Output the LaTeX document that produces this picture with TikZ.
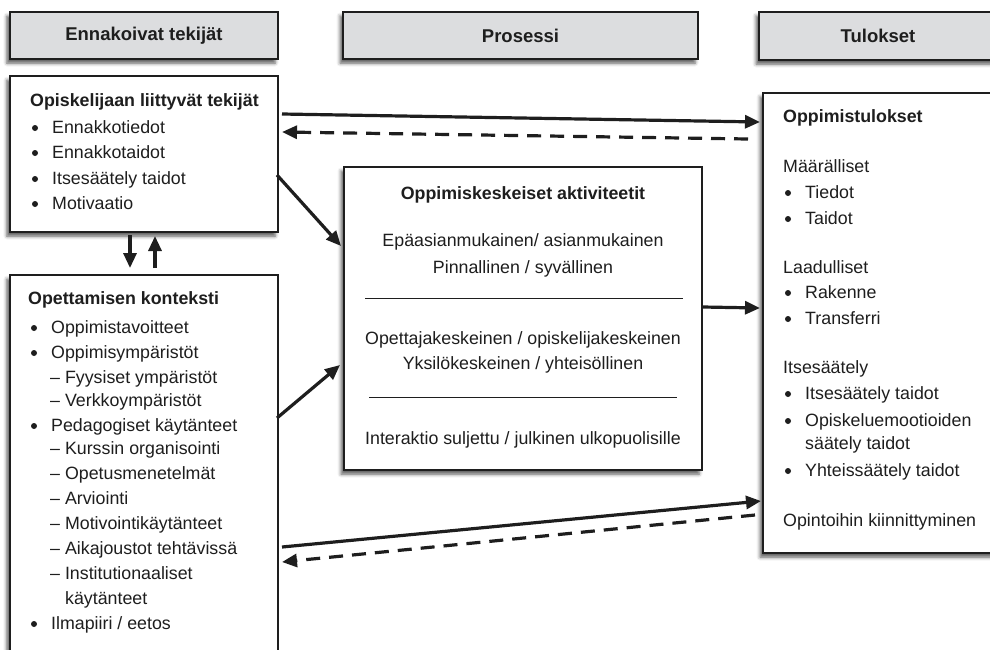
\documentclass[tikz,border=0pt]{standalone}
\usepackage{fontspec}
\setmainfont{Liberation Sans}
\usetikzlibrary{arrows.meta,calc,shadows.blur}
\definecolor{ink}{HTML}{1E1E1E}
\definecolor{headfill}{HTML}{DCDDDF}
% bulleted line: name, bullet x, baseline y, text
\newcommand\bitem[4]{%
  \fill[ink] (#2,#3-5) circle (3);
  \node[txt] (#1) at (#2+17,#3) {#4};}
\begin{document}
\begin{tikzpicture}[x=1pt,y=-1pt,
  box/.style={draw=ink, line width=1.8pt, fill=white, inner sep=0pt, outer sep=0pt,
    anchor=north west,
    blur shadow={shadow xshift=-3pt, shadow yshift=-4pt, shadow blur radius=3.5pt, shadow opacity=65}},
  head/.style={box, fill=headfill, font=\fontsize{18.5}{21}\selectfont\bfseries, text=ink},
  txt/.style={anchor=base west, inner sep=0pt, text=ink, font=\fontsize{17.8}{20}\selectfont},
  ttl/.style={txt, font=\fontsize{17.8}{20}\selectfont\bfseries},
  ctr/.style={txt, anchor=base},
  ctrb/.style={ttl, anchor=base},
  arr/.style={draw=ink, line width=3.2pt, -{Triangle[length=15pt,width=13pt]}},
  darr/.style={arr, dash pattern=on 14pt off 9pt},
  sep/.style={draw=ink, line width=0.8pt},
]
\useasboundingbox (0,0) rectangle (990,649);
\clip (0,0) rectangle (990,649);

% column headers
\node[head, minimum width=268pt, minimum height=47pt] (h1) at (10,12) {Ennakoivat tekijät};
\node[head, minimum width=355pt, minimum height=47pt] (h2) at (343,12) {Prosessi};
\node[head, minimum width=238pt, minimum height=48pt] (h3) at (759,12) {Tulokset};

% boxes
\node[box, minimum width=268pt, minimum height=156pt] (b1) at (10,76) {};
\node[box, minimum width=268pt, minimum height=400pt] (b2) at (10,275) {};
\node[box, minimum width=358pt, minimum height=303pt] (mid) at (344,167) {};
\node[box, minimum width=240pt, minimum height=460pt] (res) at (763,93) {};

% student factors
\node[ttl] (b1t) at (30,106) {Opiskelijaan liittyvät tekijät};
\bitem{b1a}{35}{133}{Ennakkotiedot}
\bitem{b1b}{35}{158}{Ennakkotaidot}
\bitem{b1c}{35}{184}{Itsesäätely taidot}
\bitem{b1d}{35}{209}{Motivaatio}

% teaching context
\node[ttl] (b2t) at (28,304) {Opettamisen konteksti};
\bitem{b2a}{34}{333}{Oppimistavoitteet}
\bitem{b2b}{34}{358}{Oppimisympäristöt}
\node[txt] (b2c) at (50,383) {– Fyysiset ympäristöt};
\node[txt] (b2d) at (50,406) {– Verkkoympäristöt};
\bitem{b2e}{34}{431}{Pedagogiset käytänteet}
\node[txt] (b2f) at (50,454) {– Kurssin organisointi};
\node[txt] (b2g) at (50,479) {– Opetusmenetelmät};
\node[txt] (b2h) at (50,504) {– Arviointi};
\node[txt] (b2i) at (50,529) {– Motivointikäytänteet};
\node[txt] (b2j) at (50,554) {– Aikajoustot tehtävissä};
\node[txt] (b2k) at (50,579) {– Institutionaaliset};
\node[txt] (b2l) at (65,604) {käytänteet};
\bitem{b2m}{34}{629}{Ilmapiiri / eetos}

% process
\node[ctrb] (m0) at (523,199) {Oppimiskeskeiset aktiviteetit};
\node[ctr] (m1) at (523,246) {Epäasianmukainen/ asianmukainen};
\node[ctr] (m2) at (523,273) {Pinnallinen / syvällinen};
\draw[sep] ($(mid.north west)+(21,131)$) -- ($(mid.north west)+(339,131)$);
\node[ctr] (m3) at (523,344) {Opettajakeskeinen / opiskelijakeskeinen};
\node[ctr] (m4) at (523,369) {Yksilökeskeinen / yhteisöllinen};
\draw[sep] ($(mid.north west)+(25,230)$) -- ($(mid.north west)+(333,230)$);
\node[ctr] (m5) at (523,444) {Interaktio suljettu / julkinen ulkopuolisille};

% outcomes
\node[ttl] (r0) at (783,122) {Oppimistulokset};
\node[txt] (r1) at (783,172) {Määrälliset};
\bitem{r2}{788}{198}{Tiedot}
\bitem{r3}{788}{224}{Taidot}
\node[txt] (r4) at (783,273) {Laadulliset};
\bitem{r5}{788}{298}{Rakenne}
\bitem{r6}{788}{324}{Transferri}
\node[txt] (r7) at (783,373) {Itsesäätely};
\bitem{r8}{788}{399}{Itsesäätely taidot}
\bitem{r9}{788}{426}{Opiskeluemootioiden}
\node[txt] (r10) at (805,449) {säätely taidot};
\bitem{r11}{788}{476}{Yhteissäätely taidot}
\node[txt] (r12) at (783,526) {Opintoihin kiinnittyminen};

% connectors
\draw[arr] ($(b1.north east)+(4,38)$) -- ($(res.north west)+(-3,29)$);
\draw[darr] ($(res.north west)+(-15,46)$) -- ($(b1.north east)+(4,56)$);
\draw[arr] ($(b1.north east)+(-1,99)$) -- ($(mid.north west)+(-3,79)$);
\draw[arr] ($(b2.north east)+(-1,143)$) -- ($(mid.north west)+(-4,198)$);
\draw[arr] ($(mid.north east)+(1,140)$) -- ($(res.north west)+(-3,215)$);
\draw[arr] ($(b2.north east)+(4,272)$) -- ($(res.north west)+(-2,408)$);
\draw[darr] ($(res.north west)+(-8,422)$) -- ($(b2.north east)+(4,287)$);
\draw[arr] ($(b1.south west)+(120,3)$) -- ($(b2.north west)+(120,-7)$);
\draw[arr] ($(b2.north west)+(145,-7)$) -- ($(b1.south west)+(145,4)$);
\end{tikzpicture}
\end{document}
